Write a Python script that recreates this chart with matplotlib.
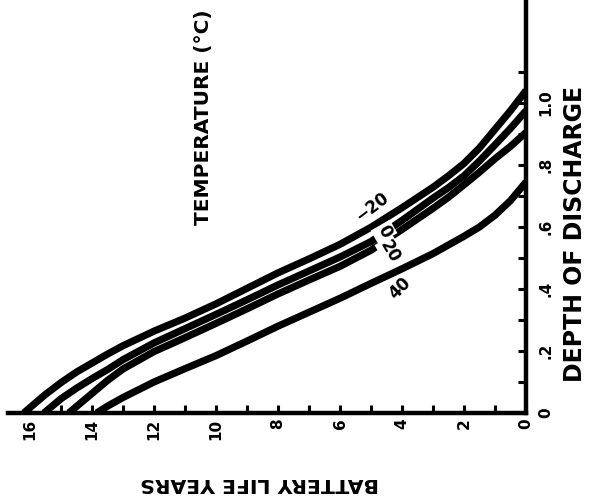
import matplotlib
matplotlib.use("Agg")
import matplotlib.pyplot as plt
from matplotlib.font_manager import FontProperties
from matplotlib.ticker import FixedLocator, FixedFormatter

# Battery life (years) versus depth of discharge, one curve per temperature
temps = ["\u221220", "0", "20", "40"]

life_m20 = [16.2, 15.9, 15.5, 15.0, 14.5, 14.0, 13.5, 13.0, 12.0, 11.0, 10.0, 9.0,
            8.0, 7.0, 6.0, 5.0, 4.0, 3.0, 2.5, 2.0, 1.5, 1.0, 0.5, 0.0]
dod_m20 = [0.0, 0.026, 0.06, 0.098, 0.132, 0.161, 0.19, 0.217, 0.264, 0.306, 0.352, 0.402,
           0.452, 0.497, 0.544, 0.599, 0.662, 0.728, 0.765, 0.805, 0.855, 0.915, 0.975, 1.04]

life_0 = [15.55, 15.3, 15.0, 14.5, 14.0, 13.5, 13.0, 12.0, 11.0, 10.0, 9.0, 8.0,
          7.0, 6.0, 5.0, 4.0, 3.0, 2.5, 2.0, 1.5, 1.0, 0.5, 0.0]
dod_0 = [0.0, 0.021, 0.046, 0.08, 0.111, 0.14, 0.172, 0.226, 0.272, 0.318, 0.365, 0.413,
         0.458, 0.503, 0.553, 0.621, 0.693, 0.727, 0.765, 0.813, 0.865, 0.918, 0.975]

life_20 = [14.75, 14.5, 14.0, 13.5, 13.0, 12.0, 11.0, 10.0, 9.0, 8.0, 7.0, 6.0,
           5.0, 4.0, 3.0, 2.5, 2.0, 1.5, 1.0, 0.5, 0.0]
dod_20 = [0.0, 0.021, 0.063, 0.105, 0.142, 0.198, 0.243, 0.289, 0.336, 0.384, 0.429, 0.473,
          0.525, 0.592, 0.66, 0.696, 0.736, 0.777, 0.82, 0.86, 0.905]

life_40 = [13.85, 13.5, 13.0, 12.0, 11.0, 10.0, 9.0, 8.0, 7.0, 6.0, 5.0, 4.0,
           3.0, 2.5, 2.0, 1.5, 1.0, 0.5, 0.0]
dod_40 = [0.0, 0.022, 0.05, 0.1, 0.143, 0.185, 0.232, 0.28, 0.325, 0.37, 0.418, 0.465,
          0.514, 0.542, 0.57, 0.6, 0.638, 0.685, 0.745]

life_ticks = [0, 2, 4, 6, 8, 10, 12, 14, 16]
life_minor = [1, 3, 5, 7, 9, 11, 13, 15]
dod_ticks = [0.0, 0.2, 0.4, 0.6, 0.8, 1.0]
dod_labels = ["0", ".2", ".4", ".6", ".8", "1.0"]
dod_minor = [0.1, 0.3, 0.5, 0.7, 0.9, 1.1]

W, H = 589, 499
fig = plt.figure(figsize=(W / 100, H / 100), dpi=100)
fig.patch.set_facecolor("white")

ax = fig.add_axes([8 / W, 86 / H, 518 / W, 413 / H])
ax.set_xlim(16.71, 0)
ax.set_ylim(0, 1.332)

ink = "black"
for life, dod in [(life_m20, dod_m20), (life_0, dod_0), (life_20, dod_20), (life_40, dod_40)]:
    ax.plot(life, dod, color=ink, lw=5.2, solid_capstyle="butt", solid_joinstyle="round", zorder=3)

for side in ["left", "top"]:
    ax.spines[side].set_visible(False)
for side in ["bottom", "right"]:
    ax.spines[side].set_linewidth(3.2)
    ax.spines[side].set_color(ink)
    ax.spines[side].set_zorder(4)

tick_font = dict(family="DejaVu Sans", weight="bold", size=11)

ax.xaxis.set_major_locator(FixedLocator(life_ticks))
ax.xaxis.set_minor_locator(FixedLocator(life_minor))
ax.set_xticklabels([str(v) for v in life_ticks], rotation=90, **tick_font)
ax.tick_params(axis="x", which="both", direction="in", length=6, width=2.2, color=ink, pad=4)

ax.yaxis.tick_right()
ax.yaxis.set_major_locator(FixedLocator(dod_ticks))
ax.yaxis.set_minor_locator(FixedLocator(dod_minor))
ax.yaxis.set_major_formatter(FixedFormatter(dod_labels))
for lbl in ax.get_yticklabels():
    lbl.set_rotation(90)
    lbl.set_fontproperties(FontProperties(**tick_font))
    lbl.set_verticalalignment("center")
ax.tick_params(axis="y", which="both", direction="in", length=6, width=2.2, color=ink, pad=9)

# Temperature labels on the curves
lab_font = dict(family="DejaVu Sans", weight="bold", size=12, color=ink, zorder=5,
                ha="center", va="center")
ax.text(4.97, 0.665, temps[0], rotation=37, **lab_font)
ax.text(4.58, 0.584, temps[1], rotation=-60,
        bbox=dict(facecolor="white", edgecolor="none", pad=1.5), **lab_font)
ax.text(4.39, 0.522, temps[2], rotation=-60,
        bbox=dict(facecolor="white", edgecolor="none", pad=1.0), **lab_font)
ax.text(4.06, 0.403, temps[3], rotation=45, **lab_font)

title_font = dict(family="DejaVu Sans", weight="bold", color=ink, ha="center", va="center")
fig.text(204 / W, 1 - 117 / H, "TEMPERATURE (\u00b0C)", rotation=90, size=14.5, **title_font)
fig.text(575 / W, 1 - 234 / H, "DEPTH OF DISCHARGE", rotation=90, size=17, **title_font)
fig.text(260 / W, 1 - 483 / H, "BATTERY LIFE YEARS", rotation=180, size=14.7, **title_font)

fig.savefig("out.png", dpi=100, facecolor="white")
